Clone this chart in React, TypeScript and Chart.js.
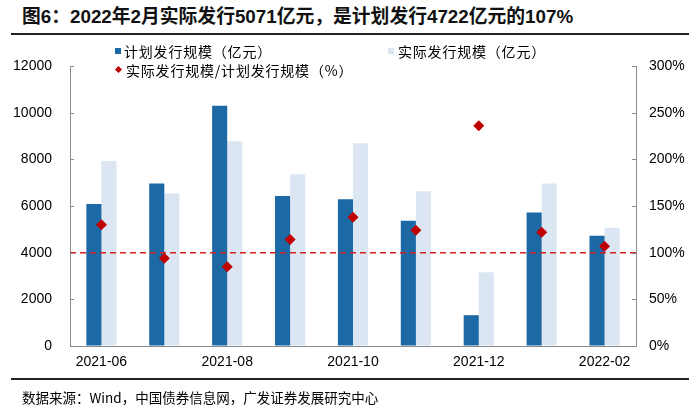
import React, { useEffect, useRef } from "react";
import { Chart, registerables } from "chart.js";

Chart.register(...registerables);

const categories = ["2021-06", "2021-07", "2021-08", "2021-09", "2021-10", "2021-11", "2021-12", "2022-01", "2022-02"];
const planValues = [6090, 6960, 10300, 6430, 6290, 5370, 1320, 5720, 4722];
const actualValues = [7930, 6550, 8780, 7360, 8690, 6630, 3160, 6960, 5071];
const ratioValues = [130, 94, 85, 114, 138, 124, 236, 122, 107];
const leftTicks = [0, 2000, 4000, 6000, 8000, 10000, 12000];
const rightTicks = [0, 50, 100, 150, 200, 250, 300];
const referenceRatio = 100;

const planLabel = "计划发行规模（亿元）";
const actualLabel = "实际发行规模（亿元）";
const ratioLabel = "实际发行规模/计划发行规模（%）";
const titleText = "图6：2022年2月实际发行5071亿元，是计划发行4722亿元的107%";
const sourceText = "数据来源：Wind，中国债券信息网，广发证券发展研究中心";

const DARK = "#1c69a5";
const LIGHT = "#dce6f2";
const RED = "#c00000";
const AXIS = "#8c8c8c";

const tickFont = { family: "'Liberation Sans', Arial, sans-serif", size: 14 };

const extrasPlugin = {
  id: "extras",
  afterDatasetsDraw(chart: any) {
    const { ctx, chartArea } = chart;
    const y1 = chart.scales.y1;
    const py = y1.getPixelForValue(referenceRatio);
    ctx.save();
    ctx.strokeStyle = "#d42020";
    ctx.lineWidth = 1.5;
    ctx.setLineDash([6, 4]);
    ctx.beginPath();
    ctx.moveTo(chartArea.left, py);
    ctx.lineTo(chartArea.right, py);
    ctx.stroke();
    ctx.restore();
  },
  afterDraw(chart: any) {
    const { ctx, chartArea } = chart;
    ctx.save();
    ctx.strokeStyle = AXIS;
    ctx.lineWidth = 1;
    const y = chart.scales.y;
    y.ticks.forEach((t: any) => {
      const p = Math.round(y.getPixelForValue(t.value)) + 0.5;
      ctx.beginPath();
      ctx.moveTo(chartArea.left, p);
      ctx.lineTo(chartArea.left + 4, p);
      ctx.stroke();
    });
    const y1 = chart.scales.y1;
    y1.ticks.forEach((t: any) => {
      const p = Math.round(y1.getPixelForValue(t.value)) + 0.5;
      ctx.beginPath();
      ctx.moveTo(chartArea.right, p);
      ctx.lineTo(chartArea.right - 4, p);
      ctx.stroke();
    });
    ctx.restore();
  },
};

export default function App() {
  const canvasRef = useRef<HTMLCanvasElement | null>(null);

  useEffect(() => {
    document.body.style.margin = "0";
    const canvas = canvasRef.current;
    if (!canvas) return;
    const chart = new Chart(canvas, {
      type: "bar",
      data: {
        labels: categories,
        datasets: [
          {
            type: "line",
            label: ratioLabel,
            data: ratioValues,
            yAxisID: "y1",
            showLine: false,
            pointStyle: "rectRot",
            pointRadius: 5.5,
            pointBackgroundColor: RED,
            pointBorderColor: RED,
            pointBorderWidth: 0,
            order: 0,
          } as any,
          {
            label: planLabel,
            data: planValues,
            backgroundColor: DARK,
            yAxisID: "y",
            categoryPercentage: 0.48,
            barPercentage: 1,
            order: 1,
          },
          {
            label: actualLabel,
            data: actualValues,
            backgroundColor: LIGHT,
            yAxisID: "y",
            categoryPercentage: 0.48,
            barPercentage: 1,
            order: 1,
          },
        ],
      },
      options: {
        responsive: false,
        animation: false,
        layout: { padding: { top: 66, left: 0, right: 0, bottom: 33 } },
        plugins: { legend: { display: false }, tooltip: { enabled: false } },
        scales: {
          x: {
            offset: true,
            grid: { drawOnChartArea: false, drawTicks: false },
            border: { display: true, color: AXIS, width: 1 },
            ticks: {
              autoSkip: false,
              maxRotation: 0,
              padding: 8,
              color: "#000",
              font: tickFont,
              callback: (_v: any, i: number) => (i % 2 === 0 ? categories[i] : ""),
            },
            afterFit: (s: any) => {
              s.height = 30;
            },
          },
          y: {
            position: "left",
            min: 0,
            max: 12000,
            afterBuildTicks: (s: any) => {
              s.ticks = leftTicks.map((v) => ({ value: v }));
            },
            grid: { drawOnChartArea: false, drawTicks: false },
            border: { display: true, color: AXIS, width: 1 },
            ticks: { padding: 18, color: "#000", font: tickFont, callback: (v: any) => String(v) },
            afterFit: (s: any) => {
              s.width = 70;
            },
          },
          y1: {
            position: "right",
            min: 0,
            max: 300,
            afterBuildTicks: (s: any) => {
              s.ticks = rightTicks.map((v) => ({ value: v }));
            },
            grid: { drawOnChartArea: false, drawTicks: false },
            border: { display: true, color: AXIS, width: 1 },
            ticks: {
              padding: 13,
              color: "#000",
              font: tickFont,
              callback: (v: any) => v + "%",
            },
            afterFit: (s: any) => {
              s.width = 64;
            },
          },
        },
      },
      plugins: [extrasPlugin],
    });
    return () => chart.destroy();
  }, []);

  const cjk = "'Noto Sans CJK SC', 'Liberation Sans', sans-serif";
  const legendText: any = {
    position: "absolute",
    fontFamily: cjk,
    fontSize: 14,
    lineHeight: "18px",
    letterSpacing: "0.8px",
    color: "#000",
    whiteSpace: "nowrap",
  };

  return (
    <div style={{ position: "fixed", left: 0, top: 0, width: 700, height: 409, background: "#fff", overflow: "hidden" }}>
      <div
        style={{
          position: "absolute",
          left: 22,
          top: 5,
          fontFamily: "'Liberation Sans', 'Noto Sans CJK SC', sans-serif",
          fontWeight: "bold",
          fontSize: 18.8,
          lineHeight: "24px",
          color: "#111",
          whiteSpace: "nowrap",
        }}
      >
        {titleText}
      </div>
      <div style={{ position: "absolute", left: 11, top: 33, width: 678, height: 2, background: "#222" }} />
      <canvas ref={canvasRef} width={700} height={409} style={{ position: "absolute", left: 0, top: 0, width: 700, height: 409 }} />
      <div style={{ position: "absolute", left: 115, top: 48, width: 6, height: 6, background: DARK }} />
      <div style={{ ...legendText, left: 124, top: 42 }}>{planLabel}</div>
      <div style={{ position: "absolute", left: 388, top: 48, width: 6, height: 6, background: LIGHT }} />
      <div style={{ ...legendText, left: 398, top: 42 }}>{actualLabel}</div>
      <div style={{ position: "absolute", left: 116, top: 67, width: 5, height: 5, background: RED, transform: "rotate(45deg)" }} />
      <div style={{ ...legendText, left: 126, top: 61 }}>{ratioLabel}</div>
      <div style={{ position: "absolute", left: 11, top: 378, width: 678, height: 2, background: "#222" }} />
      <div style={{ ...legendText, left: 22, top: 388, fontSize: 13.5, letterSpacing: "0px" }}>{sourceText}</div>
    </div>
  );
}
